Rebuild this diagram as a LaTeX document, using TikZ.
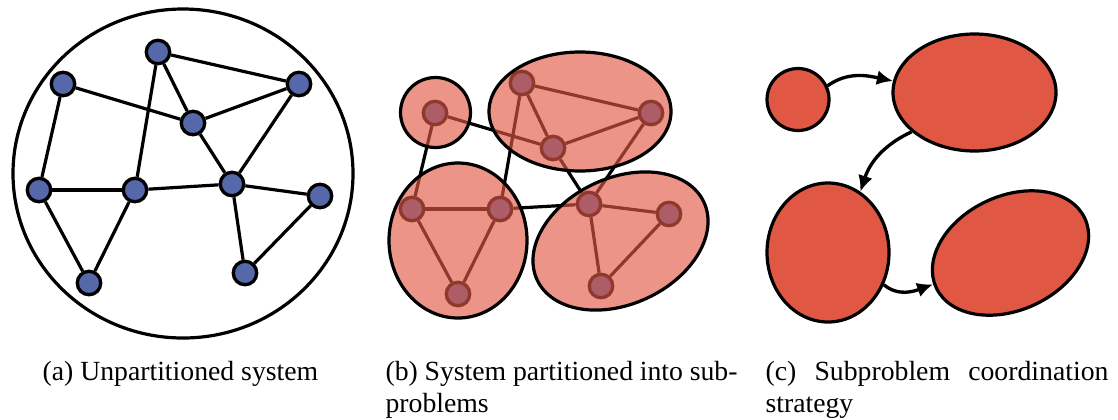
\documentclass[tikz,border=0pt]{standalone}
\usepackage{fontspec}
\setmainfont{Liberation Serif}
\usetikzlibrary{shapes.geometric,arrows.meta}
\definecolor{nodeblue}{RGB}{85,104,170}
\definecolor{partred}{RGB}{224,88,68}
\begin{document}
\begin{tikzpicture}[x=0.375pt,y=0.375pt,
  vtx/.style={circle,draw=black,fill=nodeblue,line width=1.25pt,minimum size=8.8pt,inner sep=0pt},
  edge/.style={line width=1.2pt},
  blob/.style 2 args={ellipse,draw=black,line width=1.2pt,inner sep=0pt,
    minimum width=#1*0.375pt,minimum height=#2*0.375pt},
  part/.style={fill=partred,fill opacity=0.64,draw opacity=1},
  task/.style={fill=partred},
  flow/.style={line width=1.25pt,-{Latex[length=6pt,width=5.6pt]}},
  caption/.style={inner sep=0pt,anchor=base west,font=\fontsize{10.4pt}{12pt}\selectfont}]
\useasboundingbox (0,0) rectangle (1118,-419);

% ---- (a) unpartitioned system ----
\node[blob={340}{329}] (frame) at (183,-173.5) {};
\node[vtx] (a1) at (158,-52) {};
\node[vtx] (a2) at (63,-84) {};
\node[vtx] (a3) at (299,-84) {};
\node[vtx] (a4) at (193,-123) {};
\node[vtx] (a5) at (39,-190) {};
\node[vtx] (a6) at (135,-190) {};
\node[vtx] (a7) at (232,-184) {};
\node[vtx] (a8) at (320,-196) {};
\node[vtx] (a9) at (89,-283) {};
\node[vtx] (a10) at (245,-273) {};
\foreach \u/\v in {a1/a3,a1/a4,a1/a6,a2/a4,a2/a5,a4/a3,a4/a7,a3/a7,a5/a6,a6/a7,a5/a9,a6/a9,a7/a8,a7/a10,a8/a10}
  \draw[edge] (\u) -- (\v);

% ---- (b) partitioned system: graph first, tinted regions on top ----
\node[vtx] (b1) at (435,-113) {};
\node[vtx] (b2) at (522,-83) {};
\node[vtx] (b3) at (651,-113) {};
\node[vtx] (b4) at (553,-148) {};
\node[vtx] (b5) at (412,-209) {};
\node[vtx] (b6) at (500,-209) {};
\node[vtx] (b7) at (458,-294) {};
\node[vtx] (b8) at (589,-204) {};
\node[vtx] (b9) at (669,-214) {};
\node[vtx] (b10) at (601,-286) {};
\foreach \u/\v in {b1/b4,b1/b5,b2/b3,b2/b4,b2/b6,b4/b3,b4/b8,b3/b8,b5/b6,b5/b7,b6/b7,b6/b8,b8/b9,b8/b10,b9/b10}
  \draw[edge] (\u) -- (\v);
\node[blob={70}{70},part] (p1) at (435.5,-112.5) {};
\node[blob={182}{119},part] (p2) at (580,-111.5) {};
\node[blob={138}{155},part] (p3) at (458,-240.5) {};
\node[blob={184}{126},part,rotate=25] (p4) at (620.5,-241) {};

% ---- (c) coordination strategy ----
\node[blob={62}{62},task] (c1) at (798,-99.5) {};
\node[blob={163}{117},task] (c2) at (974.5,-92.5) {};
\node[blob={122}{139},task] (c3) at (828,-252.5) {};
\node[blob={164}{114},task,rotate=25] (c4) at (1010.5,-253) {};
\draw[flow] (c1.25) to[out=35,in=168] (c2.172);
\draw[flow] (c2.212) to[out=205,in=72] (c3.62);
\draw[flow] (c3.-30) to[out=-40,in=200] (c4.177);

% ---- captions ----
\node[caption] (capa) at (42,-380) {(a)\ Unpartitioned system};
\node[caption] (capb) at (385,-380) {\parbox[t]{132pt}{(b)\ System partitioned into sub-\linebreak problems}};
\node[caption] (capc) at (765,-380) {\parbox[t]{128.6pt}{(c)\ Subproblem coordination\linebreak strategy}};
\end{tikzpicture}
\end{document}
